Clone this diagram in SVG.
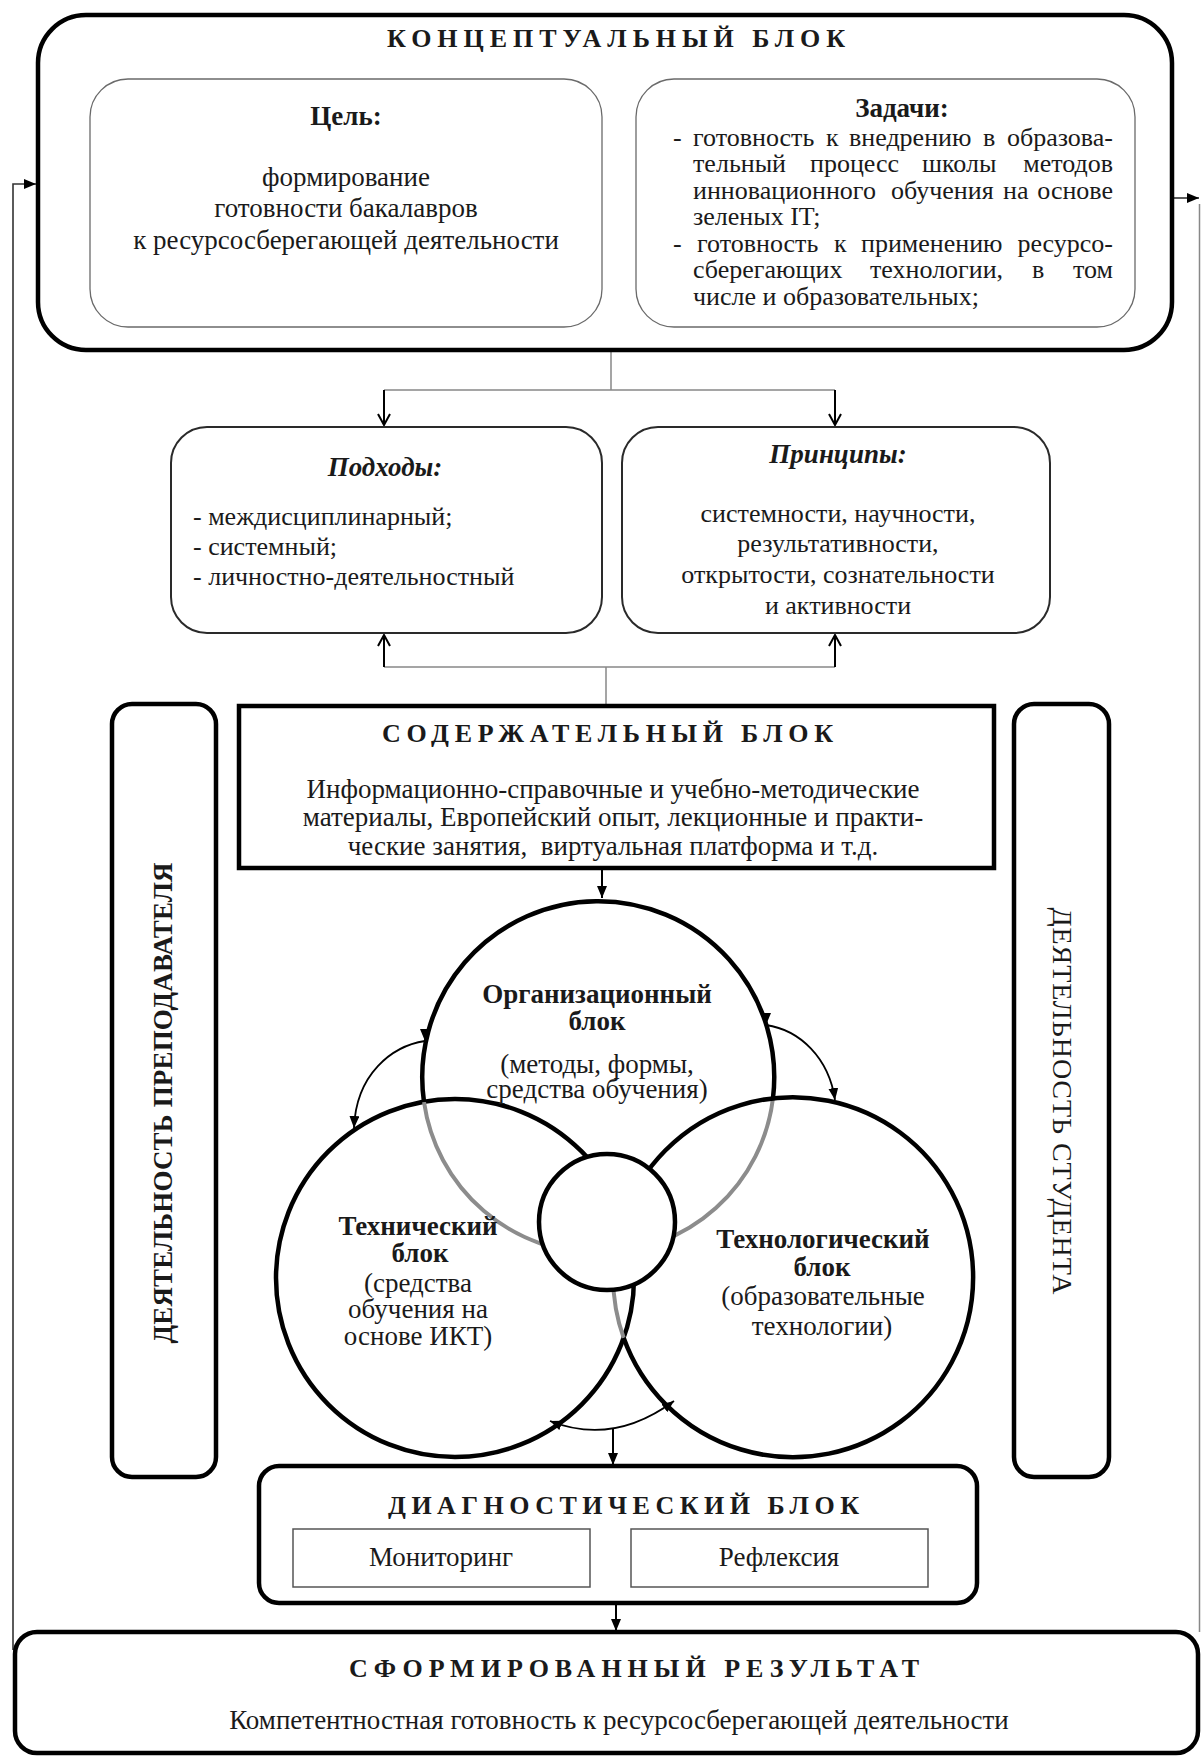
<svg xmlns="http://www.w3.org/2000/svg" width="1201" height="1757" viewBox="0 0 1201 1757">
<style>
text{font-family:"Liberation Serif","Times New Roman",serif;fill:#1a1a1a;font-size:27px}
.s{font-size:26px}
.b{font-weight:bold}
.i{font-style:italic}
.c{text-anchor:middle}
.e{text-anchor:end}
.h{font-size:26px;font-weight:bold}
.thick{fill:#fff;stroke:#000;stroke-width:4.5}
.thin{fill:#fff;stroke:#6a6a6a;stroke-width:1.3}
.mid{fill:#fff;stroke:#2a2a2a;stroke-width:2}
.sub{fill:#fff;stroke:#555;stroke-width:1.5}
.circ{fill:none;stroke:#000;stroke-width:4.5}
.gray{fill:none;stroke:#8c8c8c;stroke-width:4}
.ln{fill:none;stroke:#888;stroke-width:1.5}
.ar{fill:none;stroke:#000;stroke-width:2}
.cv{fill:none;stroke:#000;stroke-width:1.8}
.fb{fill:none;stroke:#333;stroke-width:1.6}
</style>
<defs>
<marker id="tri" markerUnits="userSpaceOnUse" markerWidth="12" markerHeight="10" refX="12" refY="5" orient="auto-start-reverse" viewBox="0 0 12 10"><path d="M0,0L12,5L0,10z" fill="#000"/></marker>
<marker id="triDown" markerUnits="userSpaceOnUse" markerWidth="12" markerHeight="10" refX="12" refY="5" orient="90" viewBox="0 0 12 10"><path d="M0,0L12,5L0,10z" fill="#000"/></marker>
<marker id="vee" markerUnits="userSpaceOnUse" markerWidth="14" markerHeight="14" refX="12" refY="7" orient="auto-start-reverse" viewBox="0 0 14 14"><path d="M1,1L12,7L1,13" fill="none" stroke="#000" stroke-width="2"/></marker>
</defs>
<rect width="1201" height="1757" fill="#fff"/>

<g id="connectors">
<path class="fb" d="M13,1650V184H36" marker-end="url(#tri)"/>
<path class="fb" d="M1172,198H1199" marker-end="url(#tri)"/>
<path class="ln" d="M1199.5,204V1632" stroke="#bbb"/>
<path class="ln" d="M611,350V390M384,390H835"/>
<path class="ar" d="M384,390V425" marker-end="url(#vee)"/>
<path class="ar" d="M835,390V425" marker-end="url(#vee)"/>
<path class="ln" d="M384,667H835M606,667V706"/>
<path class="ar" d="M384,667V635" marker-end="url(#vee)"/>
<path class="ar" d="M835,667V635" marker-end="url(#vee)"/>
<path class="ar" d="M602,868V898" marker-end="url(#tri)"/>
<path class="cv" d="M425,1041C392,1046 356,1074 354,1128" marker-start="url(#triDown)" marker-end="url(#tri)"/>
<path class="cv" d="M766,1025C800,1030 829,1058 835,1100" marker-start="url(#triDown)" marker-end="url(#tri)"/>
<path class="cv" d="M550,1421Q613,1446 674,1401" marker-start="url(#tri)" marker-end="url(#tri)"/>
<path class="ar" d="M613,1428V1465" marker-end="url(#tri)"/>
<path class="ar" d="M616,1603V1631" marker-end="url(#tri)"/>
</g>

<g id="concept">
<rect class="thick" x="38" y="15" width="1134" height="335" rx="48"/>
<text class="h" x="387" y="47" textLength="458" lengthAdjust="spacing">КОНЦЕПТУАЛЬНЫЙ БЛОК</text>
</g>

<g id="goal">
<rect class="thin" x="90" y="79" width="512" height="248" rx="38"/>
<text class="b c" x="346" y="125">Цель:</text>
<text class="c" x="346" y="186">формирование</text>
<text class="c" x="346" y="217">готовности бакалавров</text>
<text class="c" x="346" y="249">к ресурсосберегающей деятельности</text>
</g>

<g id="tasks">
<rect class="thin" x="636" y="79" width="499" height="248" rx="38"/>
<text class="b c" x="902" y="117">Задачи:</text>
<text class="s" y="146"><tspan x="673">-</tspan><tspan x="693">готовность</tspan><tspan x="826">к</tspan><tspan x="849">внедрению</tspan><tspan x="983">в</tspan></text>
<text class="s e" x="1113" y="146">образова-</text>
<text class="s" y="172"><tspan x="693">тельный</tspan><tspan x="810">процесс</tspan><tspan x="922">школы</tspan></text>
<text class="s e" x="1113" y="172">методов</text>
<text class="s" y="199"><tspan x="693">инновационного</tspan><tspan x="891">обучения</tspan><tspan x="1003">на</tspan></text>
<text class="s e" x="1113" y="199">основе</text>
<text class="s" x="693" y="225">зеленых IT;</text>
<text class="s" y="252"><tspan x="673">-</tspan><tspan x="697">готовность</tspan><tspan x="834">к</tspan><tspan x="861">применению</tspan></text>
<text class="s e" x="1113" y="252">ресурсо-</text>
<text class="s" y="278"><tspan x="693">сберегающих</tspan><tspan x="870">технологии,</tspan><tspan x="1032">в</tspan></text>
<text class="s e" x="1113" y="278">том</text>
<text class="s" x="693" y="305">числе и образовательных;</text>
</g>

<g id="approaches">
<rect class="mid" x="171" y="427" width="431" height="206" rx="36"/>
<text class="b i c" x="385" y="476">Подходы:</text>
<text class="s" x="193" y="525">- междисциплинарный;</text>
<text class="s" x="193" y="555">- системный;</text>
<text class="s" x="193" y="585">- личностно-деятельностный</text>
</g>

<g id="principles">
<rect class="mid" x="622" y="427" width="428" height="206" rx="36"/>
<text class="b i c" x="838" y="463">Принципы:</text>
<text class="s c" x="838" y="522">системности, научности,</text>
<text class="s c" x="838" y="552">результативности,</text>
<text class="s c" x="838" y="583">открытости, сознательности</text>
<text class="s c" x="838" y="614">и активности</text>
</g>

<g id="teacher">
<rect class="thick" x="112" y="704" width="104" height="773" rx="20"/>
<text class="b c" transform="translate(172,1103) rotate(-90)" textLength="481" lengthAdjust="spacing">ДЕЯТЕЛЬНОСТЬ ПРЕПОДАВАТЕЛЯ</text>
</g>

<g id="student">
<rect class="thick" x="1014" y="704" width="95" height="773" rx="20"/>
<text class="c" transform="translate(1053,1101) rotate(90)" style="font-size:28px" textLength="387" lengthAdjust="spacing">ДЕЯТЕЛЬНОСТЬ СТУДЕНТА</text>
</g>

<g id="content">
<rect class="thick" x="239" y="706" width="755" height="162"/>
<text class="h" x="382" y="742" textLength="451" lengthAdjust="spacing">СОДЕРЖАТЕЛЬНЫЙ БЛОК</text>
<text class="c" x="613" y="798">Информационно-справочные и учебно-методические</text>
<text class="c" x="613" y="826">материалы, Европейский опыт, лекционные и практи-</text>
<text class="c" x="613" y="855">ческие занятия,&#160; виртуальная платформа и т.д.</text>
</g>

<g id="tech">
<circle class="circ" cx="455" cy="1278" r="179"/>
</g>
<g id="org">
<path class="gray" d="M424,1102A176,176 0 0 0 773,1098"/>
<path class="circ" d="M424,1102A176,176 0 1 1 773,1098"/>
</g>
<g id="techno">
<path class="gray" d="M623.5,1217A180,180 0 0 0 623.7,1338"/>
<path class="circ" d="M623.5,1217A180,180 0 1 1 623.7,1338"/>
</g>
<g id="core">
<circle cx="607" cy="1222" r="68" fill="#fff" stroke="#000" stroke-width="4.5"/>
</g>
<g id="circle-labels">
<text class="b c" x="597" y="1003">Организационный</text>
<text class="b c" x="597" y="1030">блок</text>
<text class="c" x="597" y="1073">(методы, формы,</text>
<text class="c" x="597" y="1098">средства обучения)</text>
<text class="b c" x="418" y="1235">Технический</text>
<text class="b c" x="420" y="1262">блок</text>
<text class="c" x="418" y="1292">(средства</text>
<text class="c" x="418" y="1318">обучения на</text>
<text class="c" x="418" y="1345">основе ИКТ)</text>
<text class="b c" x="823" y="1248">Технологический</text>
<text class="b c" x="822" y="1276">блок</text>
<text class="c" x="823" y="1305">(образовательные</text>
<text class="c" x="822" y="1335">технологии)</text>
</g>

<g id="diag">
<rect class="thick" x="259" y="1466" width="718" height="137" rx="20"/>
<text class="h" x="388" y="1514" textLength="471" lengthAdjust="spacing">ДИАГНОСТИЧЕСКИЙ БЛОК</text>
<rect class="sub" x="293" y="1529" width="297" height="58"/>
<text class="c" x="441" y="1566">Мониторинг</text>
<rect class="sub" x="631" y="1529" width="297" height="58"/>
<text class="c" x="779" y="1566">Рефлексия</text>
</g>

<g id="result">
<rect class="thick" x="15" y="1632" width="1183" height="121" rx="22"/>
<text class="h" x="349" y="1677" textLength="570" lengthAdjust="spacing">СФОРМИРОВАННЫЙ РЕЗУЛЬТАТ</text>
<text class="c" x="619" y="1729">Компетентностная готовность к ресурсосберегающей деятельности</text>
</g>
</svg>
